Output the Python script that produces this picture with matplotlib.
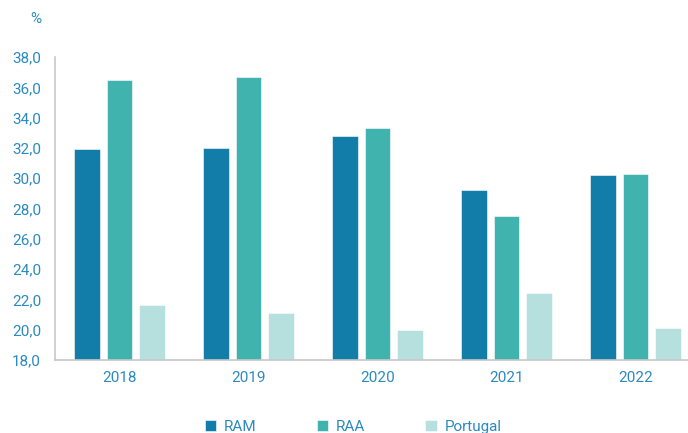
import matplotlib.pyplot as plt
import numpy as np

plt.rcParams['font.family'] = ['Roboto', 'DejaVu Sans']

# Data
years = ['2018', '2019', '2020', '2021', '2022']
ram = [31.9, 32.0, 32.8, 29.2, 30.2]
raa = [36.5, 36.7, 33.3, 27.5, 30.3]
portugal = [21.6, 21.1, 20.0, 22.4, 20.1]
series_names = ['RAM', 'RAA', 'Portugal']
colors = ['#137DAA', '#41B3AE', '#B6E0DD']
text_color = '#2B8AC0'

fig = plt.figure(figsize=(6.88, 4.33), dpi=100)
ax = fig.add_axes([55 / 688, 73 / 433, 633 / 688, 303 / 433])

x = np.arange(len(years))
width = 0.194
offset = 0.252
for i, (vals, name, col) in enumerate(zip([ram, raa, portugal], series_names, colors)):
    ax.bar(x + (i - 1) * offset, np.array(vals) - 18, width, bottom=18,
           color=col, label=name, edgecolor='white', linewidth=0.4)

ax.set_ylim(18, 38)
ax.set_yticks(np.arange(18, 38.1, 2))
ax.set_yticklabels([f'{v:.1f}'.replace('.', ',') for v in np.arange(18, 38.1, 2)])
ax.set_xlim(-0.5, -0.5 + 633 / 129)
ax.set_xticks(x)
ax.set_xticklabels(years)

for s in ['top', 'right']:
    ax.spines[s].set_visible(False)
for s in ['left', 'bottom']:
    ax.spines[s].set_color('#C8C8C8')
    ax.spines[s].set_linewidth(1.2)

ax.tick_params(axis='y', length=0, pad=10, labelsize=11, labelcolor=text_color)
ax.tick_params(axis='x', length=0, pad=8, labelsize=11, labelcolor=text_color)

fig.text(36 / 688, 1 - 19 / 433, '%', color=text_color, fontsize=11,
         ha='center', va='center')

fig.legend(loc='center', bbox_to_anchor=(353 / 688, 6 / 433), ncol=3,
           frameon=False, fontsize=11, labelcolor=text_color,
           handlelength=0.75, handleheight=0.75, handletextpad=0.5,
           columnspacing=3.95)

fig.savefig('out.png', dpi=100)
